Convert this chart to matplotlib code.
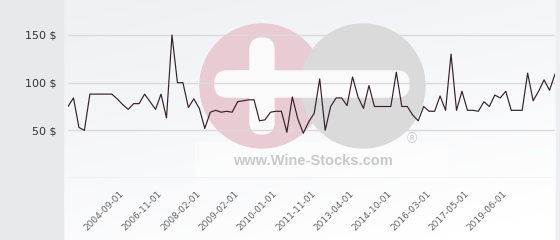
import numpy as np
import matplotlib
matplotlib.use("Agg")
import matplotlib.pyplot as plt
from matplotlib.patches import Circle, Rectangle, FancyBboxPatch

# price per bottle, one value per category (irregular dates)
prices = [75, 84, 53, 50, 88, 88, 88, 88, 88, 83,
          77, 72, 78, 78, 88, 80, 72, 88, 63, 150,
          100, 100, 74, 83, 73, 52, 69, 71, 69, 70,
          69, 80, 81, 82, 82, 60, 61, 69, 70, 70,
          48, 85, 62, 47, 59, 68, 104, 50, 75, 84,
          84, 76, 106, 85, 73, 97, 75, 75, 75, 75,
          111, 75, 75, 66, 60, 75, 70, 70, 86, 71,
          130, 71, 91, 71, 71, 70, 80, 75, 87, 84,
          91, 71, 71, 71, 110, 81, 91, 103, 92, 109]

tick_labels = ["2004-09-01", "2006-11-01", "2008-02-01", "2009-02-01",
               "2010-01-01", "2011-11-01", "2013-04-01", "2014-10-01",
               "2016-03-01", "2017-05-01", "2019-06-01"]
first_label = 10
label_step = 7

y_ticks = [0, 50, 100, 150]
y_labels = ["", "50 $", "100 $", "150 $"]

W, H = 560, 240
fig = plt.figure(figsize=(W / 100, H / 100), dpi=100)

# background layer in pixel coordinates
bg = fig.add_axes([0, 0, 1, 1])
bg.set_xlim(0, W)
bg.set_ylim(H, 0)
bg.axis("off")

# plot area gradient
gy, gx = np.mgrid[0:1:120j, 0:1:250j]
t = np.clip(0.75 * gy + 0.35 * gx, 0, 1)
top = np.array([0.933, 0.941, 0.957])
bot = np.array([1.0, 1.0, 1.0])
grad = top[None, None, :] * (1 - t[..., None]) + bot[None, None, :] * t[..., None]
bg.imshow(grad, extent=(63, W, H, 0), aspect="auto", zorder=0)
bg.add_patch(Rectangle((0, 0), 63, H, color="#e6eaed", zorder=1))
bg.add_patch(Rectangle((556, 0), 4, H, color="#eceef1", zorder=1))

# watermark
bg.add_patch(Rectangle((195, 142), 252, 34, color="white", alpha=0.55, zorder=1))
bg.add_patch(Circle((262, 86), 62, color="#e9cbd3", zorder=2))
bg.add_patch(Circle((363, 86), 62, color="#dadadb", zorder=3))
bg.add_patch(FancyBboxPatch((228, 71), 181, 26, boxstyle="round,pad=0,rounding_size=12",
                            color="#fafafb", zorder=4))
bg.add_patch(FancyBboxPatch((250, 38), 24, 96, boxstyle="round,pad=0,rounding_size=12",
                            color="#fafafb", zorder=4))
bg.add_patch(FancyBboxPatch((215, 71), 70, 26, boxstyle="round,pad=0,rounding_size=12",
                            color="#fafafb", zorder=4))
bg.text(312.5, 161, "www.Wine-Stocks.com", ha="center", va="center",
        fontsize=10.5, fontweight="bold", family="Liberation Sans",
        color="#c9c9cb", zorder=5)
bg.text(412, 139, "\u00ae", ha="center", va="center", fontsize=10,
        family="Liberation Sans", color="#cdcdcf", zorder=5)

# data axes: x 68..555 px, value 0 at y=178 px, 150 at y=35 px
px_per_unit = (178 - 35) / 150
ax = fig.add_axes([68 / W, (H - 178) / H, (555 - 68) / W, 178 / H])
ax.patch.set_alpha(0)
x = np.arange(len(prices))
ax.plot(x, prices, color="#35202d", lw=0.85, zorder=3)
ax.set_xlim(0, len(prices) - 1)
ax.set_ylim(0, 178 / px_per_unit)

ax.set_yticks(y_ticks)
ax.set_yticklabels(y_labels, fontsize=8, color="#333333")
ax.set_xticks(range(first_label, first_label + label_step * len(tick_labels), label_step))
ax.set_xticklabels(tick_labels, fontsize=6.5, color="#666666", rotation=45,
                   ha="right", va="center", rotation_mode="anchor")
ax.tick_params(axis="y", length=0, pad=8)
ax.tick_params(axis="x", length=0, pad=10)
ax.grid(axis="y", color="#dadadd", lw=1)
ax.grid(axis="x", visible=False)
ax.set_axisbelow(True)
for s in ax.spines.values():
    s.set_visible(False)

fig.savefig("out.png", dpi=100)
